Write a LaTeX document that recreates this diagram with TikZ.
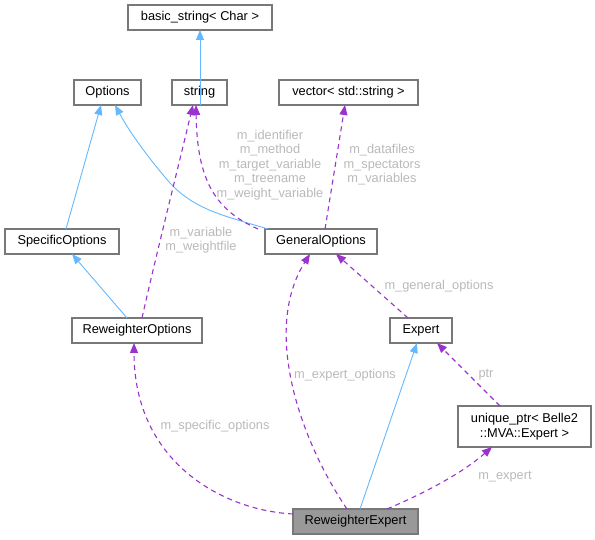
\documentclass[tikz,border=0pt]{standalone}
\usepackage{fontspec}
\setmainfont{Liberation Sans}
\usetikzlibrary{arrows.meta}
\definecolor{edgeblue}{RGB}{99,184,255}
\definecolor{edgepurple}{RGB}{154,50,205}
\definecolor{boxline}{RGB}{120,120,120}
\definecolor{lblgray}{RGB}{185,185,185}
\definecolor{mainfill}{RGB}{153,153,153}
\tikzset{
  cls/.style={draw=boxline, line width=1.2pt, fill=white, inner sep=0pt, minimum height=25pt,
    font=\fontsize{12.8}{14.5}\selectfont, text=black, align=center},
  inherit/.style={draw=edgeblue, line width=0.9pt, -{Triangle[length=10pt,width=8pt]}},
  usage/.style={draw=edgepurple, line width=1.1pt, dash pattern=on 5pt off 4pt,
    -{Triangle[length=10pt,width=8pt]}},
  lbl/.style={font=\fontsize{12.8}{14.5}\selectfont, text=lblgray, align=center, inner sep=0pt}
}
\begin{document}
\begin{tikzpicture}[x=1pt,y=-1pt]
\useasboundingbox (0,0) rectangle (595,540);
% nodes
\node[cls, minimum width=144pt] (bs) at (200,17.5) {basic\_string< Char >};
\node[cls, minimum width=67pt] (opt) at (107.5,92.5) {Options};
\node[cls, minimum width=55pt] (str) at (199.5,92.5) {string};
\node[cls, minimum width=139pt] (vec) at (348.5,92.5) {vector< std::string >};
\node[cls, minimum width=114pt] (spec) at (62,241.5) {SpecificOptions};
\node[cls, minimum width=112pt] (gen) at (321,241.5) {GeneralOptions};
\node[cls, minimum width=130pt] (rwo) at (137,330.5) {ReweighterOptions};
\node[cls, minimum width=62pt] (exp) at (421,330.5) {Expert};
\node[cls, minimum width=133pt, minimum height=41pt] (uptr) at (524.5,426.5) {unique\_ptr< Belle2\\::MVA::Expert >};
\node[cls, minimum width=125pt, fill=mainfill] (rwe) at (355.5,521.5) {ReweighterExpert};
% coordinates on node borders
\coordinate (strB) at (200,105);
\coordinate (bsB) at (200,30);
\coordinate (specT) at (66,229);
\coordinate (optBa) at (101,105);
\coordinate (genTa) at (268,229);
\coordinate (optBb) at (115,105);
\coordinate (genTb) at (258,229);
\coordinate (strBa) at (196,105);
\coordinate (rwoTa) at (142,318);
\coordinate (strBb) at (193,105);
\coordinate (rwoTb) at (127,318);
\coordinate (specB) at (72,254);
\coordinate (genTc) at (325,229);
\coordinate (vecB) at (345,105);
\coordinate (expTa) at (408,318);
\coordinate (genBa) at (336,254);
\coordinate (rweTa) at (347,509);
\coordinate (genBb) at (310,254);
\coordinate (rweTb) at (360,509);
\coordinate (expB) at (417,343);
\coordinate (rweTc) at (387,509);
\coordinate (uptrB) at (492,447);
\coordinate (uptrT) at (500,406);
\coordinate (expBb) at (437,343);
\coordinate (rweL) at (293,514);
\coordinate (rwoB) at (134,343);
% inheritance edges
\draw[inherit] (strB) -- (bsB);
\draw[inherit] (specT) -- (optBa);
\draw[inherit] (genTa) .. controls (225,216) and (195,210) .. (170,183) .. controls (150,160) and (130,133) .. (optBb);
\draw[inherit] (rwoTb) -- (specB);
\draw[inherit] (rweTb) -- (expB);
% usage edges
\draw[usage] (genTb) .. controls (215,210) and (197,180) .. (strBa);
\draw[usage] (rwoTa) .. controls (155,260) and (175,180) .. (strBb);
\draw[usage] (genTc) -- (vecB);
\draw[usage] (expTa) -- (genBa);
\draw[usage] (rweTa) .. controls (300,440) and (262,330) .. (genBb);
\draw[usage] (rweTc) .. controls (420,495) and (460,475) .. (uptrB);
\draw[usage] (uptrT) -- (expBb);
\draw[usage] (rweL) .. controls (220,510) and (134,460) .. (rwoB);
% labels
\node[lbl] (l1) at (270,165) {m\_identifier\\m\_method\\m\_target\_variable\\m\_treename\\m\_weight\_variable};
\node[lbl] (l2) at (382,165) {m\_datafiles\\m\_spectators\\m\_variables};
\node[lbl] (l3) at (201,240) {m\_variable\\m\_weightfile};
\node[lbl] (l4) at (439,286) {m\_general\_options};
\node[lbl] (l5) at (345,375) {m\_expert\_options};
\node[lbl] (l6) at (486,375) {ptr};
\node[lbl] (l7) at (215,426) {m\_specific\_options};
\node[lbl] (l8) at (505,477) {m\_expert};
\end{tikzpicture}
\end{document}
